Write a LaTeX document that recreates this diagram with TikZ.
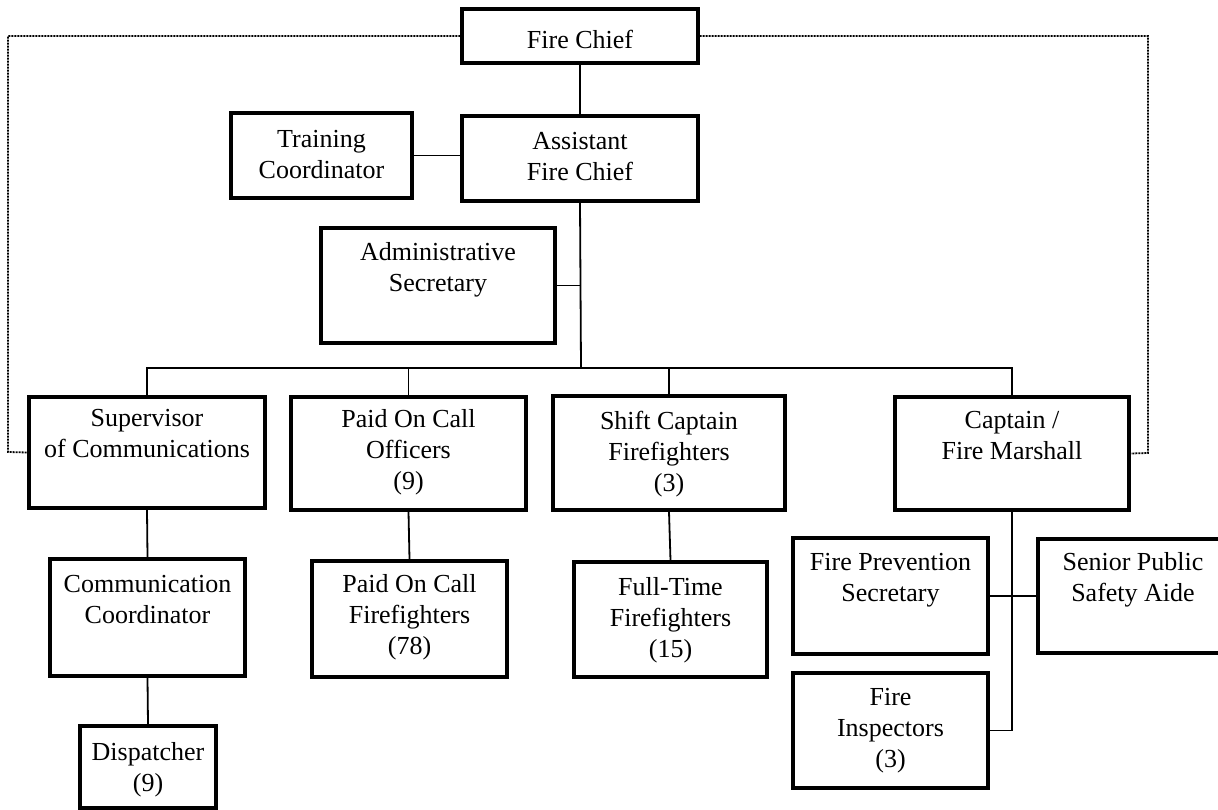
\documentclass[tikz,border=0pt]{standalone}
\usepackage{fontspec}
\setmainfont{Liberation Serif}
\usetikzlibrary{fit}
\tikzset{
  boxst/.style={draw, line width=3.4pt, inner sep=0pt, rectangle},
  txtst/.style={anchor=north, inner sep=0pt, align=center,
    font=\fontsize{26}{31}\selectfont, execute at begin node=\strut},
  conn/.style={line width=1.8pt},
  dotline/.style={line width=1.8pt, dash pattern=on 2pt off 1pt},
}
\newcommand{\orgbox}[7]{%
  \node[boxst, fit={(#2,#3) (#4,#5)}] (#1) {};
  \node[txtst] (#1t) at ([yshift=18.7pt-#7pt]#1.north) {#6};
}
\begin{document}
\begin{tikzpicture}[x=1pt,y=-1pt]
\fill[white] (0,0) rectangle (1218,810);
\clip (0,0) rectangle (1218,810);
% boxes
\orgbox{chief}{462}{9}{698}{63}{Fire Chief}{38}
\orgbox{asst}{462}{116}{698}{201}{Assistant\\Fire Chief}{36}
\orgbox{train}{231}{113}{412}{198}{Training\\Coordinator}{37}
\orgbox{admin}{321}{228}{555}{343}{Administrative\\Secretary}{35}
\orgbox{sup}{29}{397}{265}{508}{Supervisor\\of Communications}{32}
\orgbox{poco}{291}{397}{526}{510}{Paid On Call\\Officers\\(9)}{33}
\orgbox{shift}{553}{396}{785}{510}{Shift Captain\\Firefighters\\(3)}{35}
\orgbox{capt}{895}{397}{1129}{510}{Captain /\\Fire Marshall}{34}
\orgbox{comm}{50}{559}{245}{676}{Communication\\Coordinator}{36}
\orgbox{disp}{80}{726}{216}{808}{Dispatcher\\(9)}{37}
\orgbox{pocff}{312}{561}{507}{677}{Paid On Call\\Firefighters\\(78)}{34}
\orgbox{ft}{574}{562}{767}{677}{Full-Time\\Firefighters\\(15)}{36}
\orgbox{fps}{793}{538}{988}{654}{Fire Prevention\\Secretary}{35}
\orgbox{spsa}{1038}{539}{1228}{653}{Senior Public\\Safety Aide}{34}
\orgbox{insp}{793}{673}{988}{788}{Fire\\Inspectors\\(3)}{35}
% connectors
\coordinate (bus) at (581,368);
\coordinate (lft) at (8,452);
\coordinate (rgt) at (1148,453);
\draw[conn] (chief.south) -- (asst.north);
\draw[conn] (train.east) -- (train.east -| asst.west);
\draw[conn] (asst.south) -- (bus);
\draw[conn] (admin.east) -- (admin.east -| asst.south);
\draw[conn] (sup.north) |- (bus) -| (capt.north);
\draw[conn] (poco.north) -- (poco.north |- bus);
\draw[conn] (shift.north) -- (shift.north |- bus);
\draw[conn] (sup.south) -- (comm.north);
\draw[conn] (comm.south) -- (disp.north);
\draw[conn] (poco.south) -- (pocff.north);
\draw[conn] (shift.south) -- (ft.north);
\draw[conn] (capt.south) |- (insp.east);
\draw[conn] (fps.east) -- (spsa.west);
% dotted lines
\draw[dotline] (chief.west) -| (lft) -- (sup.west);
\draw[dotline] (chief.east) -| (rgt) -- (capt.east);
\end{tikzpicture}
\end{document}
